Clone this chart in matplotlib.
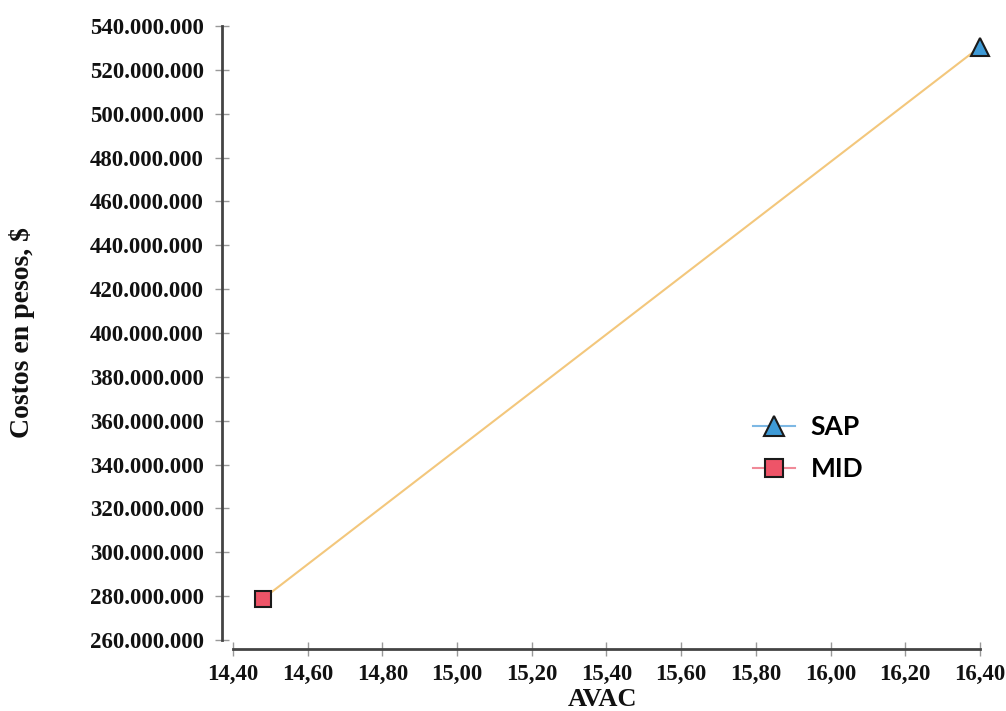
import matplotlib
matplotlib.use("Agg")
import matplotlib.pyplot as plt
from matplotlib.lines import Line2D
from matplotlib.ticker import FuncFormatter, MultipleLocator

series = ["SAP", "MID"]
avac = [16.40, 14.48]
costos = [530_500_000, 278_800_000]
markers = ["^", "s"]
face_colors = ["#3E9AD6", "#EE5468"]
legend_line_colors = ["#7DB8E4", "#F08A98"]

fig = plt.figure(figsize=(10.06, 7.11), dpi=100)
W, H = 1006, 711
ax = fig.add_axes([222 / W, 1 - 649 / H, (980 - 222) / W, (649 - 26) / H])

# connector line
ax.plot(avac, costos, color="#F3C77C", lw=1.5, zorder=2, clip_on=False)
for x, y, m, fc in zip(avac, costos, markers, face_colors):
    ax.plot([x], [y], marker=m, ms=13 if m == "^" else 12, mfc=fc, mec="#1a1a1a",
            mew=1.5, ls="none", zorder=3, clip_on=False)

ax.set_xlim(14.3706, 16.40)
ax.set_ylim(255_900_000, 540_000_000)
ax.xaxis.set_major_locator(MultipleLocator(0.2))
ax.yaxis.set_major_locator(MultipleLocator(20_000_000))
ax.xaxis.set_major_formatter(FuncFormatter(lambda v, p: f"{v:.2f}".replace(".", ",")))
ax.yaxis.set_major_formatter(FuncFormatter(lambda v, p: f"{int(round(v)):,}".replace(",", ".")))

for s in ["top", "right"]:
    ax.spines[s].set_visible(False)
ax.spines["left"].set_bounds(260_000_000, 540_000_000)
ax.spines["bottom"].set_bounds(14.40, 16.40)
for s in ["left", "bottom"]:
    ax.spines[s].set_color("#444444")
    ax.spines[s].set_linewidth(2)

ax.tick_params(axis="both", direction="inout", length=10, width=1, color="#999999",
               labelsize=16.5, labelcolor="#111111")
ax.tick_params(axis="y", pad=8)
ax.tick_params(axis="x", pad=6)
for lab in ax.get_xticklabels() + ax.get_yticklabels():
    lab.set_fontfamily("Liberation Serif")
    lab.set_fontweight("bold")

ax.set_xlabel("AVAC", fontfamily="Liberation Serif", fontweight="bold", fontsize=19,
              color="#111111")
ax.set_ylabel("Costos en pesos, $", fontfamily="Liberation Serif", fontweight="bold",
              fontsize=20, color="#111111")
ax.xaxis.set_label_coords((602 - 222) / (980 - 222), -(688 - 649) / (649 - 26))
ax.yaxis.set_label_coords((35 - 222) / (980 - 222), (649 - 333) / (649 - 26))

handles = [Line2D([0], [0], color=lc, lw=1.5, marker=m, ms=14 if m == "^" else 13,
                  mfc=fc, mec="#1a1a1a", mew=1.5)
           for m, fc, lc in zip(markers, face_colors, legend_line_colors)]
fig.legend(handles, series, loc="center left", bbox_to_anchor=(729 / W, 1 - 448 / H),
           frameon=False, prop={"family": "Lato", "weight": "bold", "size": 19},
           handlelength=1.6, labelspacing=0.68, handletextpad=0.6)

fig.savefig("out.png", dpi=100)
